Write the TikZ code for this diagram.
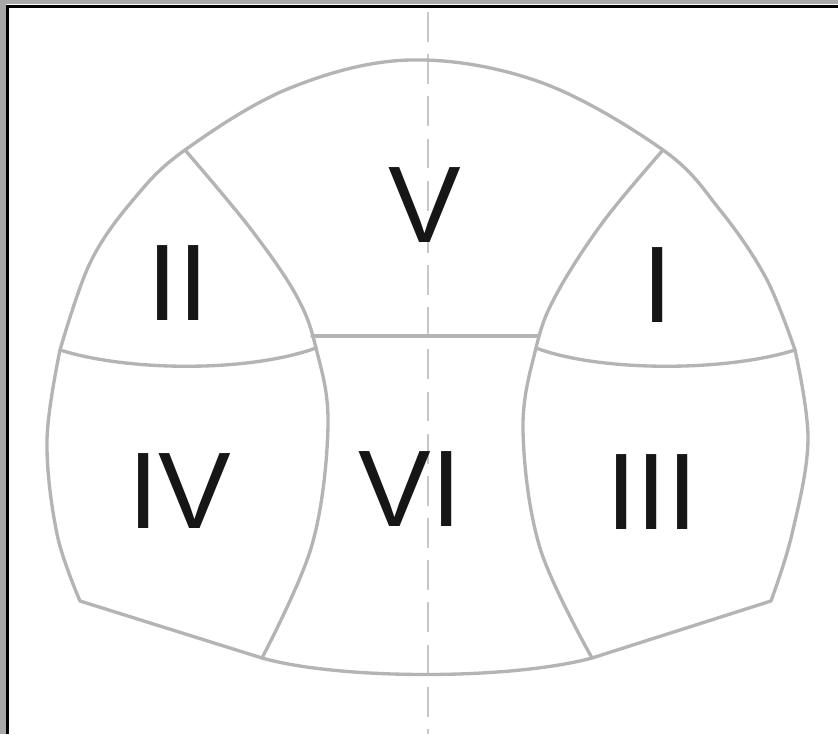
\documentclass[tikz,border=0pt]{standalone}
\usepackage{fontspec}
\setmainfont{Liberation Sans}
\definecolor{linegray}{HTML}{B4B4B4}
\definecolor{dashgray}{HTML}{C8C8C8}
\definecolor{framegray}{HTML}{A8A8A8}
\definecolor{ink}{HTML}{161616}
\tikzset{
  seg/.style={draw=linegray, line width=1.9pt, line join=round, line cap=round},
  axisline/.style={draw=dashgray, line width=1.1pt, dash pattern=on 17pt off 7pt},
  lbl/.style={inner sep=0pt, text=ink, font=\fontsize{62}{70}\selectfont}
}
\begin{document}
\begin{tikzpicture}[x=0.02cm,y=-0.02cm]
\useasboundingbox (0,0) rectangle (838,734);
\fill[white] (0,0) rectangle (838,734);
% frame
\fill[framegray] (0,0) rectangle (838,4);
\fill[framegray] (0,0) rectangle (6,734);
\fill[black] (6,5) rectangle (9,734);
\fill[black] (6,5) rectangle (838,8);
% centre line
\draw[axisline] (428,12) -- (428,734);
% outer top boundary
\draw[seg] plot[smooth, tension=0.6] coordinates {(60,350) (90,263) (133,200) (185,150) (290,88) (410,60) (540,82) (663,150) (720,210) (766,278) (795,350)};
% outer lower sides
\draw[seg] plot[smooth, tension=0.6] coordinates {(60,350) (47,440) (57,534) (80,601)};
\draw[seg] plot[smooth, tension=0.6] coordinates {(795,350) (808,440) (792,534) (771,601)};
% bottom
\draw[seg] (80,601) -- (262,658);
\draw[seg] (771,601) -- (592,658);
\draw[seg] (262,658) .. controls (340,680) and (510,680) .. (592,658);
% inner arcs
\draw[seg] plot[smooth, tension=0.6] coordinates {(185,150) (250,228) (296,295) (316,348) (328,425) (312,545) (262,658)};
\draw[seg] plot[smooth, tension=0.6] coordinates {(663,150) (603,222) (556,295) (536,348) (523,430) (540,548) (592,658)};
% dividers
\draw[seg] (60,350) .. controls (130,372) and (250,372) .. (316,348);
\draw[seg] (536,348) .. controls (600,372) and (725,372) .. (795,350);
\draw[seg] (312,336) -- (538,336);
% labels
\node[lbl] (v) at (425,205) {V};
\node[lbl] (ii) at (178,283) {II};
\node[lbl] (i) at (658,285) {I};
\node[lbl] (iv) at (180,491) {IV};
\node[lbl] (vi) at (410,489) {VI};
\node[lbl] (iii) at (652,492) {III};
\end{tikzpicture}
\end{document}
